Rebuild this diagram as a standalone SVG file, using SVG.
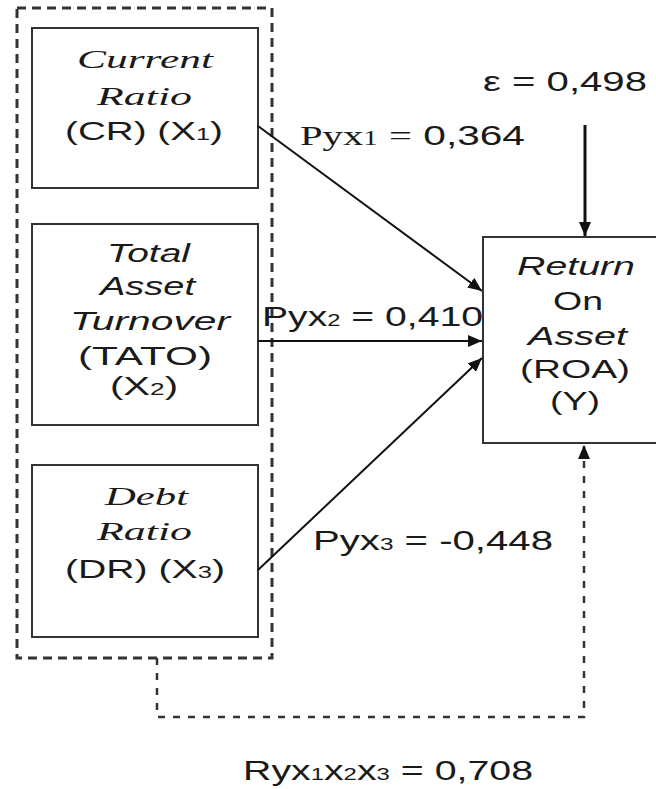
<svg xmlns="http://www.w3.org/2000/svg" width="656" height="789" viewBox="0 0 656 789">
<defs>
<style>
.box{fill:#fff;stroke:#333;stroke-width:2}
.grp{fill:none;stroke:#333;stroke-width:3;stroke-dasharray:9 6}
.dot{fill:none;stroke:#333;stroke-width:2.5;stroke-dasharray:7 8}
.ln{fill:none;stroke:#111;stroke-width:2}
.t{font-family:"Liberation Sans",Arial,sans-serif;font-size:26px;fill:#1a1a1a}
.i{font-style:italic}
.s{font-family:"Liberation Serif","Times New Roman",serif}
.sub{font-size:17px}
</style>
<marker id="ah" markerWidth="14" markerHeight="12" refX="14" refY="6" orient="auto" markerUnits="userSpaceOnUse"><path d="M0,0 L14,6 L0,12 z" fill="#111"/></marker>
</defs>
<rect width="656" height="789" fill="#fff"/>
<g id="group-x">
<rect class="grp" x="17" y="8" width="255" height="650"/>
</g>
<g id="node-cr">
<rect class="box" x="32" y="28" width="226" height="160"/>
<text class="t i s" x="77" y="68" textLength="136" lengthAdjust="spacingAndGlyphs">Current</text>
<text class="t i s" x="97" y="105" textLength="95" lengthAdjust="spacingAndGlyphs">Ratio</text>
<text class="t" x="65" y="140" textLength="158" lengthAdjust="spacingAndGlyphs">(CR) (X<tspan class="sub">1</tspan>)</text>
</g>
<g id="node-tato">
<rect class="box" x="32" y="224" width="226" height="201"/>
<text class="t i" x="107" y="262" textLength="83" lengthAdjust="spacingAndGlyphs">Total</text>
<text class="t i" x="100" y="295" textLength="95" lengthAdjust="spacingAndGlyphs">Asset</text>
<text class="t i" x="70" y="330" textLength="160" lengthAdjust="spacingAndGlyphs">Turnover</text>
<text class="t" x="78" y="365" textLength="134" lengthAdjust="spacingAndGlyphs">(TATO)</text>
<text class="t" x="110" y="395" textLength="68" lengthAdjust="spacingAndGlyphs">(X<tspan class="sub">2</tspan>)</text>
</g>
<g id="node-dr">
<rect class="box" x="32" y="465" width="226" height="172"/>
<text class="t i s" x="105" y="505" textLength="83" lengthAdjust="spacingAndGlyphs">Debt</text>
<text class="t i s" x="97" y="540" textLength="95" lengthAdjust="spacingAndGlyphs">Ratio</text>
<text class="t" x="65" y="578" textLength="160" lengthAdjust="spacingAndGlyphs">(DR) (X<tspan class="sub">3</tspan>)</text>
</g>
<g id="node-roa">
<rect class="box" x="483" y="237" width="190" height="206"/>
<text class="t i" x="517" y="275" textLength="118" lengthAdjust="spacingAndGlyphs">Return</text>
<text class="t" x="553" y="310" textLength="50" lengthAdjust="spacingAndGlyphs">On</text>
<text class="t i" x="528" y="345" textLength="99" lengthAdjust="spacingAndGlyphs">Asset</text>
<text class="t" x="520" y="378" textLength="110" lengthAdjust="spacingAndGlyphs">(ROA)</text>
<text class="t" x="550" y="410" textLength="50" lengthAdjust="spacingAndGlyphs">(Y)</text>
</g>
<g id="connectors">
<line class="ln" x1="258" y1="126" x2="482" y2="291" marker-end="url(#ah)"/>
<line class="ln" x1="258" y1="341" x2="482" y2="341" marker-end="url(#ah)"/>
<line class="ln" x1="258" y1="570" x2="482" y2="358" marker-end="url(#ah)"/>
<line class="ln" x1="585" y1="125" x2="585" y2="236" marker-end="url(#ah)" style="stroke-width:3"/>
<polyline class="dot" points="157,658 157,717 584,717 584,445" marker-end="url(#ah)"/>
</g>
<g id="labels">
<text class="t" x="483" y="91" textLength="164" lengthAdjust="spacingAndGlyphs" style="font-size:28px">ε = 0,498</text>
<text class="t" x="300" y="145" textLength="225" lengthAdjust="spacingAndGlyphs" style="font-size:28px"><tspan class="s">Pyx</tspan><tspan class="s" style="font-size:20px">1</tspan> <tspan class="s">=</tspan> 0,364</text>
<text class="t" x="262" y="326" textLength="221" lengthAdjust="spacingAndGlyphs" style="font-size:28px">Pyx<tspan class="sub">2</tspan> = 0,410</text>
<text class="t" x="313" y="550" textLength="240" lengthAdjust="spacingAndGlyphs" style="font-size:28px">Pyx<tspan class="sub">3</tspan> = -0,448</text>
<text class="t" x="243" y="780" textLength="290" lengthAdjust="spacingAndGlyphs" style="font-size:28px">Ryx<tspan class="sub">1</tspan>x<tspan class="sub">2</tspan>x<tspan class="sub">3</tspan> = 0,708</text>
</g>
</svg>
